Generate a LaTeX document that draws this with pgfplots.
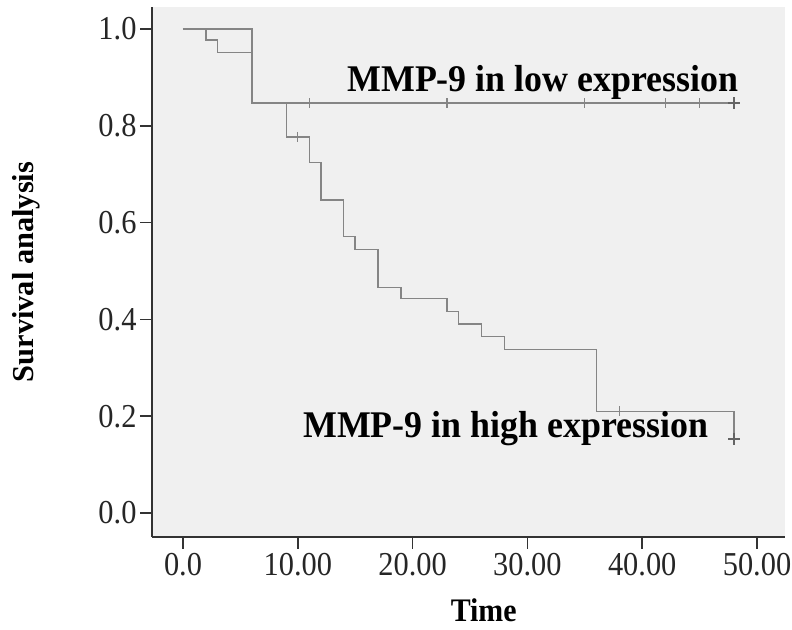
\documentclass[border=0pt]{standalone}
\usepackage{pgfplots}
\pgfplotsset{compat=1.18}
\usepackage{fontspec}
\setmainfont{Liberation Serif}
\definecolor{bg}{HTML}{F0F0F0}
\definecolor{ln}{HTML}{858585}
\definecolor{axc}{HTML}{333333}
\begin{document}
\begin{tikzpicture}[x=1bp,y=1bp]
\useasboundingbox (0,0) rectangle (792,630);
\begin{axis}[
  at={(152bp,93bp)}, anchor=south west,
  scale only axis, width=633bp, height=530bp,
  xmin=-2.7, xmax=52.44, ymin=-0.0496, ymax=1.0455,
  axis x line*=bottom, axis y line*=left,
  axis line style={axc, line width=1.5bp},
  axis background/.style={fill=bg},
  tick align=outside, major tick length=12bp,
  tick style={axc, line width=1.5bp},
  xtick={0,10,20,30,40,50}, xticklabels={0.0,10.00,20.00,30.00,40.00,50.00},
  ytick={0,0.2,0.4,0.6,0.8,1.0}, yticklabels={0.0,0.2,0.4,0.6,0.8,1.0},
  ticklabel style={font=\fontsize{30.5}{31}\selectfont, text=black!85, yscale=1.1},
  xlabel={Time},
  xlabel style={at={(axis description cs:0.524,-0.139)}, anchor=center, font=\bfseries\fontsize{30}{30}\selectfont, yscale=1.1},
  ylabel={Survival analysis},
  ylabel style={at={(axis description cs:-0.198,0.5)}, anchor=center, font=\bfseries\fontsize{30.5}{30}\selectfont},
]
% low expression
\addplot[const plot, ln, line width=1.5bp, mark=none] coordinates {(0,1)(6,0.847)(48,0.847)};
% high expression
\addplot[const plot, ln, line width=1.5bp, mark=none] coordinates {
(0,1)(2,0.977)(3,0.951)(6,0.847)(9,0.777)(11,0.724)(12,0.647)(14,0.571)(15,0.544)
(17,0.466)(19,0.443)(23,0.416)(24,0.390)(26,0.365)(28,0.338)(36,0.210)(48,0.153)};
% censor marks
\addplot[only marks, mark=|, mark size=5bp, ln, line width=1.1bp] coordinates {
(11,0.847)(23,0.847)(35,0.847)(42,0.847)(45,0.847)(10,0.777)(38,0.210)};
\addplot[only marks, mark=+, mark size=6bp, ln!75!black, line width=2.5bp] coordinates {(48,0.847)(48,0.153)};
\node[anchor=base west, font=\bfseries\fontsize{36}{36}\selectfont, inner sep=0pt, yscale=1.05] at (axis cs:14.3,0.870) {MMP-9 in low expression};
\node[anchor=base west, font=\bfseries\fontsize{36}{36}\selectfont, inner sep=0pt, yscale=1.05] at (axis cs:10.45,0.157) {MMP-9 in high expression};
\end{axis}
\end{tikzpicture}
\end{document}
